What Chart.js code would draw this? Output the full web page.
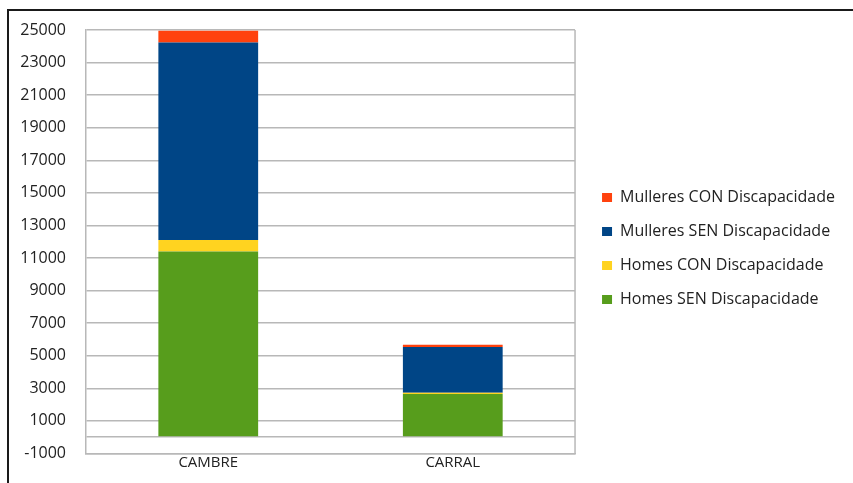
<!DOCTYPE html>
<html lang="gl">
<head>
  <meta charset="UTF-8">
  <title>Poboación por discapacidade</title>
  <script src="https://cdn.jsdelivr.net/npm/chart.js"></script>
  <style>
    html, body { margin: 0; padding: 0; background: #fff; }
    #wrap { position: relative; width: 853px; height: 483px; }
    #frame {
      position: absolute; left: 7px; top: 9px; right: 0; bottom: 0;
      border-top: 2px solid #1a1a1a; border-left: 2px solid #1a1a1a;
      pointer-events: none;
    }
  </style>
</head>
<body>
  <div id="wrap">
    <canvas id="chart"></canvas>
    <div id="frame"></div>
  </div>

  <script>
    const categories = ['CAMBRE', 'CARRAL'];
    const homesSen = [11400, 2650];
    const homesCon = [700, 80];
    const mulleresSen = [12130, 2800];
    const mulleresCon = [720, 140];

    const gridColor = '#b8b8b8';
    const textColor = '#222';
    const fontName = 'Open Sans';

    function drawChart() {
      const ctx = document.getElementById('chart').getContext('2d');
      new Chart(ctx, {
        type: 'bar',
        data: {
          labels: categories,
          datasets: [
            { label: 'Homes SEN Discapacidade', data: homesSen, backgroundColor: '#579d1c' },
            { label: 'Homes CON Discapacidade', data: homesCon, backgroundColor: '#ffd320' },
            { label: 'Mulleres SEN Discapacidade', data: mulleresSen, backgroundColor: '#004586' },
            { label: 'Mulleres CON Discapacidade', data: mulleresCon, backgroundColor: '#ff420e' }
          ]
        },
        options: {
          responsive: true,
          maintainAspectRatio: false,
          animation: false,
          layout: { padding: { top: 30, right: 17, left: 0, bottom: 0 } },
          datasets: {
            bar: { categoryPercentage: 1, barPercentage: 0.408, borderWidth: 0 }
          },
          plugins: {
            tooltip: { enabled: false },
            legend: {
              position: 'right',
              reverse: true,
              maxWidth: 320,
              labels: {
                boxWidth: 10,
                boxHeight: 9,
                padding: 18,
                color: textColor,
                font: { family: fontName, size: 16 }
              }
            }
          },
          scales: {
            x: {
              stacked: true,
              border: { color: gridColor, width: 1.5 },
              grid: { display: false, drawTicks: false },
              ticks: { color: textColor, padding: 0, font: { family: fontName, size: 15 } },
              afterFit: axis => { axis.height = 26; }
            },
            y: {
              stacked: true,
              min: -1000,
              max: 25000,
              border: { color: gridColor, width: 1.5 },
              grid: { color: gridColor, lineWidth: 1.5, drawTicks: false },
              ticks: {
                stepSize: 2000,
                padding: 20,
                color: textColor,
                font: { family: fontName, size: 16 },
                callback: v => (v === 0 ? '' : v)
              },
              // zero line sits between the labelled ticks
              afterBuildTicks: axis => {
                axis.ticks.push({ value: 0 });
                axis.ticks.sort((a, b) => a.value - b.value);
              },
              afterFit: axis => { axis.width = 86; }
            }
          }
        },
        plugins: [{
          id: 'plotFrame',
          afterLayout(chart) {
            // a little more room between plot and legend
            chart.legend.left += 9;
            chart.legend.right += 9;
            chart.legend.top -= 8;
            chart.legend.bottom -= 8;
          },
          afterDraw(chart) {
            const a = chart.chartArea;
            const c = chart.ctx;
            c.save();
            c.strokeStyle = gridColor;
            c.lineWidth = 1.5;
            c.beginPath();
            c.moveTo(a.right, a.top);
            c.lineTo(a.right, a.bottom);
            c.stroke();
            c.restore();
          }
        }]
      });
    }

    document.fonts.load('16px "Open Sans"').then(drawChart, drawChart);
  </script>
</body>
</html>
